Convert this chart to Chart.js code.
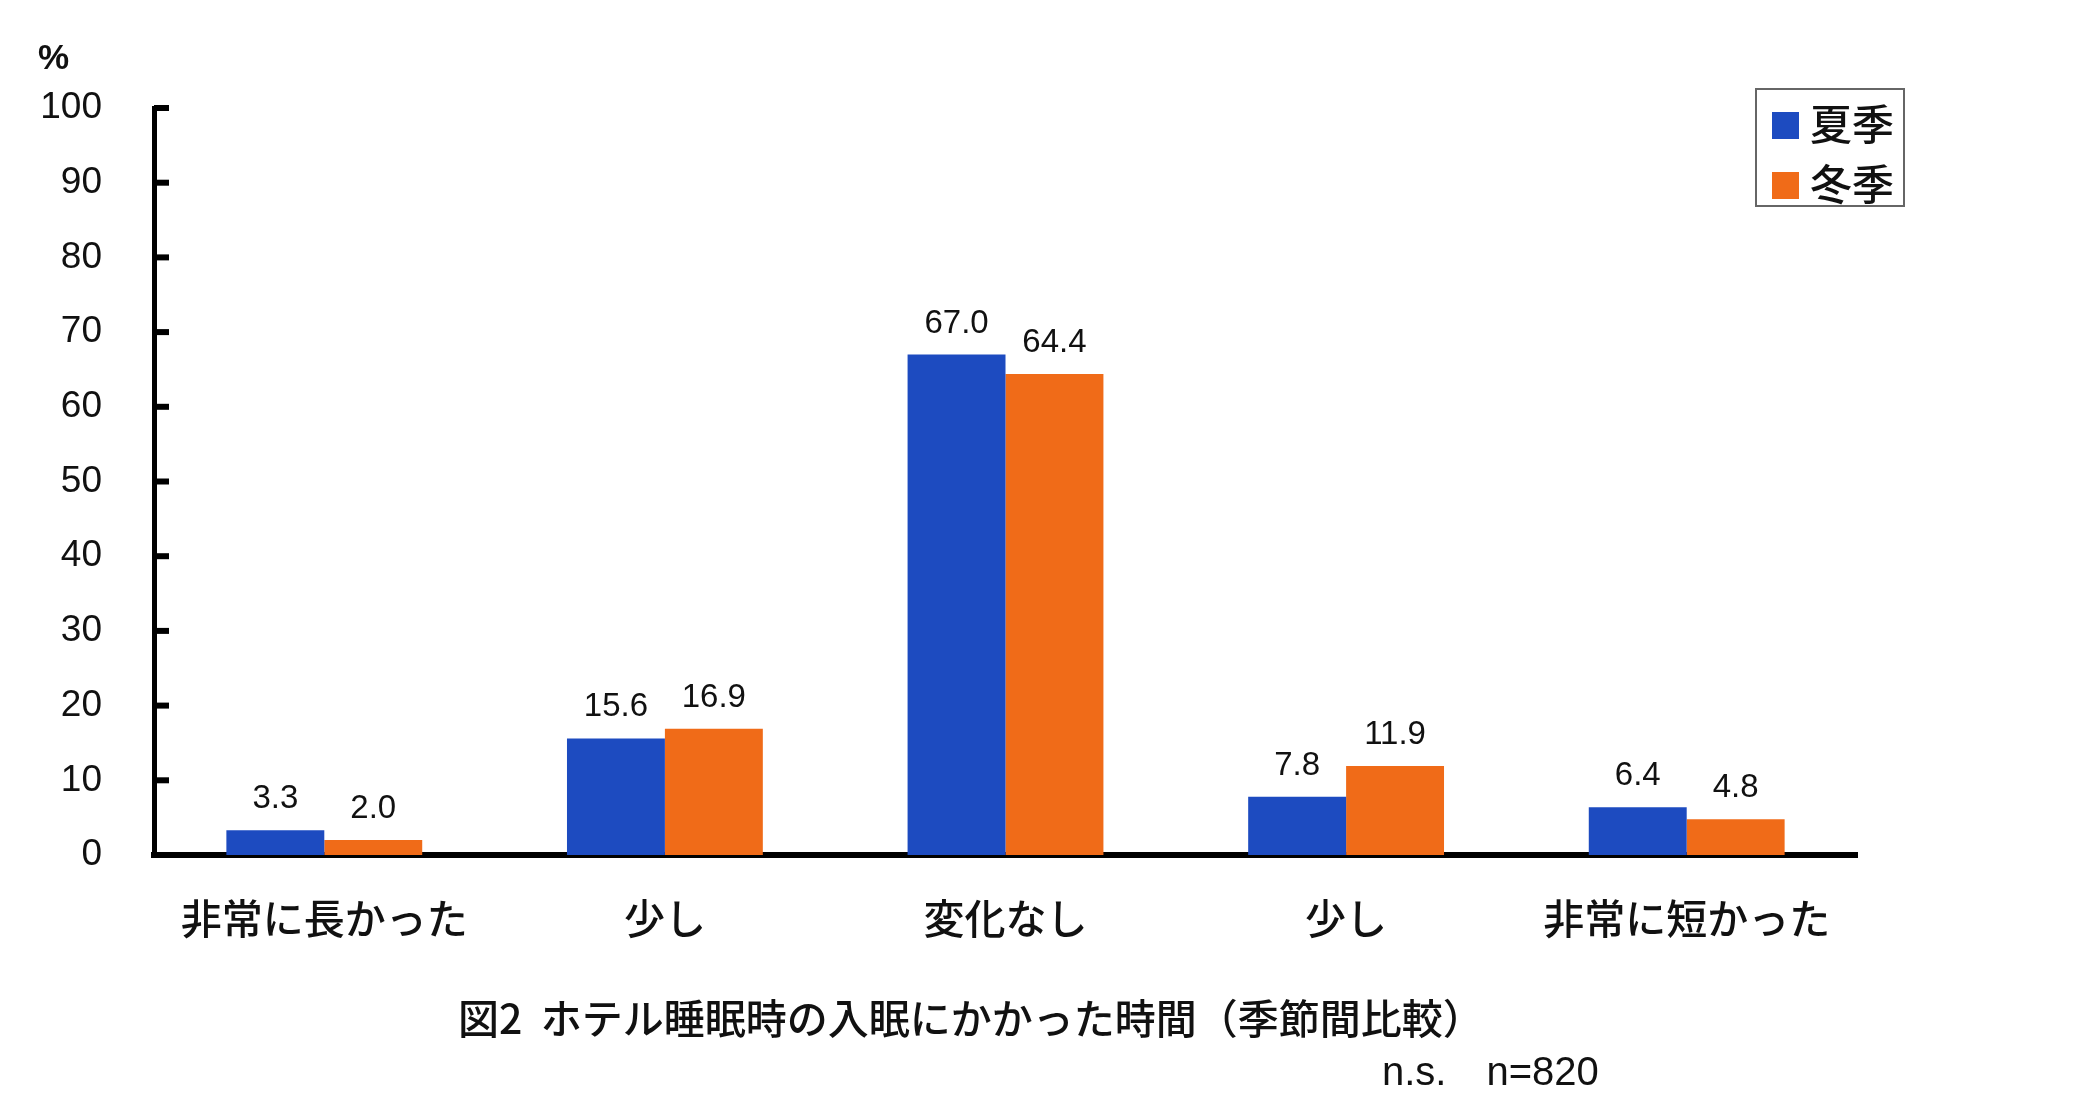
<!DOCTYPE html>
<html>
<head>
<meta charset="utf-8">
<script src="https://cdn.jsdelivr.net/npm/chart.js@4.4.1/dist/chart.umd.min.js"></script>
<style>
    body { margin: 0; background: #ffffff; }
    #wrap { position: relative; width: 2079px; height: 1120px; background: #ffffff; }
    #chart { position: absolute; left: 0; top: 0; }
    .txt { position: absolute; color: #111; line-height: 1; white-space: pre; }
    #legendBox { position: absolute; left: 1755px; top: 88px; width: 150px; height: 119px; box-sizing: border-box; border: 2px solid #666; background: #fff; }
    .sw { position: absolute; left: 15px; width: 27px; height: 27px; }
    .legText { position: absolute; left: 53px; font: 500 42px "Noto Sans CJK JP"; line-height: 1; color: #111; }
</style>
</head>
<body>
<div id="wrap">
    <canvas id="chart" width="2079" height="1120"></canvas>
    <div class="txt" style="left:38px; top:37px; font: bold 35px 'Liberation Sans';">%</div>
    <div id="legendBox"></div>
    <div class="txt" style="left:458px; top:986px; font: 500 41px 'Noto Sans CJK JP';">図2  ホテル睡眠時の入眠にかかった時間（季節間比較）</div>
    <div class="txt" style="left:1382px; top:1049px; font: 40px 'Liberation Sans';"><span>n.s.</span><span style="margin-left:40px">n=820</span></div>
</div>
<script>
// categories and values
var categories = ['非常に長かった', '少し', '変化なし', '少し', '非常に短かった'];
var seriesNames = ['夏季', '冬季'];
var summerValues = [3.3, 15.6, 67.0, 7.8, 6.4];
var winterValues = [2.0, 16.9, 64.4, 11.9, 4.8];
var yTicks = [0, 10, 20, 30, 40, 50, 60, 70, 80, 90, 100];

var blue = '#1d4bc0';
var orange = '#f06b18';

// legend in its own bordered box
var legendBox = document.getElementById('legendBox');
[[seriesNames[0], blue, 22, 11], [seriesNames[1], orange, 82, 71]].forEach(function (item) {
    let sw = document.createElement('div');
    sw.className = 'sw';
    sw.style.top = item[2] + 'px';
    sw.style.background = item[1];
    legendBox.appendChild(sw);
    let t = document.createElement('div');
    t.className = 'legText';
    t.style.top = item[3] + 'px';
    t.textContent = item[0];
    legendBox.appendChild(t);
});

// ticks pointing into the plot, like the original
var innerTicks = {
    id: 'innerTicks',
    afterDraw(chart) {
        let ctx = chart.ctx;
        let yScale = chart.scales.y;
        let left = chart.chartArea.left;
        ctx.save();
        ctx.strokeStyle = '#000';
        ctx.lineWidth = 6;
        yTicks.forEach((v) => {
            let y = yScale.getPixelForValue(v);
            ctx.beginPath();
            ctx.moveTo(left, y);
            ctx.lineTo(left + 15, y);
            ctx.stroke();
        });
        ctx.restore();
    }
};

// value labels above each bar
var valueLabels = {
    id: 'valueLabels',
    afterDatasetsDraw(chart) {
        let ctx = chart.ctx;
        ctx.save();
        ctx.font = '33px "Liberation Sans"';
        ctx.fillStyle = '#111';
        ctx.textAlign = 'center';
        ctx.textBaseline = 'alphabetic';
        chart.data.datasets.forEach((ds, i) => {
            chart.getDatasetMeta(i).data.forEach((bar, j) => {
                ctx.fillText(ds.data[j].toFixed(1), bar.x, bar.y - 22);
            });
        });
        ctx.restore();
    }
};

new Chart(document.getElementById('chart'), {
    type: 'bar',
    data: {
        labels: categories,
        datasets: [
            { label: seriesNames[0], data: summerValues, backgroundColor: blue, borderWidth: 0 },
            { label: seriesNames[1], data: winterValues, backgroundColor: orange, borderWidth: 0 }
        ]
    },
    options: {
        responsive: false,
        devicePixelRatio: 1,
        animation: false,
        layout: { padding: { top: 108, right: 222, left: 0, bottom: 0 } },
        datasets: { bar: { categoryPercentage: 0.575, barPercentage: 1.0 } },
        plugins: {
            legend: { display: false },
            tooltip: { enabled: false }
        },
        scales: {
            x: {
                grid: { display: false },
                border: { display: true, color: '#000', width: 6 },
                ticks: {
                    color: '#111',
                    padding: 31,
                    font: { family: 'Noto Sans CJK JP', size: 41, weight: 500 }
                },
                afterFit(scale) { scale.height = 265; }
            },
            y: {
                min: 0,
                max: 100,
                grid: { display: false, drawTicks: false },
                border: { display: true, color: '#000', width: 5 },
                ticks: {
                    stepSize: 10,
                    color: '#111',
                    padding: 52,
                    font: { family: 'Liberation Sans', size: 37 }
                },
                afterFit(scale) { scale.width = 154; }
            }
        }
    },
    plugins: [innerTicks, valueLabels]
});
</script>
</body>
</html>
